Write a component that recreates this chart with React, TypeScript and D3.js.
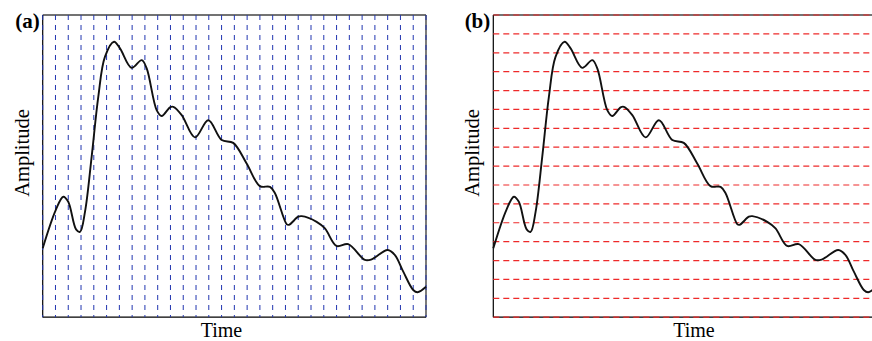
import React from "react";
import * as d3 from "d3";

const timeValues = [0, 1.02, 1.61, 2.0, 2.61, 2.92, 3.31, 3.83, 4.35, 4.87, 5.58, 6.05, 6.96, 7.75, 8.14, 8.92, 9.31, 9.96, 10.22, 10.88, 11.92, 12.96, 14.01, 14.91, 15.96, 17.0, 17.79, 18.18, 19.09, 19.27, 20.0, 20.27, 21.44, 22.09, 23.0, 23.91, 25.22, 25.74, 27.0, 27.57, 28.22, 29.0, 29.34, 30];
const amplitudeValues = [3.65, 5.67, 6.38, 6.11, 4.65, 4.52, 5.58, 8.49, 11.67, 13.78, 14.58, 14.23, 13.2, 13.61, 13.17, 10.96, 10.65, 11.11, 11.14, 10.7, 9.52, 10.43, 9.38, 9.23, 8.14, 6.94, 6.9, 6.56, 4.93, 4.89, 5.32, 5.35, 5.05, 4.7, 3.77, 3.87, 3.03, 3.06, 3.56, 3.29, 2.41, 1.44, 1.32, 1.61];
const timeGrid = d3.range(0, 31);
const amplitudeGrid = d3.range(0, 17);
const panelLabels = ["(a)", "(b)"];
const xLabel = "Time";
const yLabel = "Amplitude";

const TOP = 15;
const BOTTOM = 317.2;
const WIDTH = 383.3;
const FONT = "'Liberation Serif', 'Times New Roman', serif";

type PanelProps = { left: number; mode: "v" | "h"; label: string; timeX: number; ampX: number; ampY: number };

function Panel({ left, mode, label, timeX, ampX, ampY }: PanelProps) {
  const x = d3.scaleLinear().domain([0, 30]).range([left, left + WIDTH]);
  const y = d3.scaleLinear().domain([0, 16]).range([BOTTOM, TOP]);
  const pts: [number, number][] = timeValues.map((t, i) => [x(t), y(amplitudeValues[i])]);
  const line = d3.line().curve(d3.curveCatmullRom.alpha(0.5))(pts) || "";
  const right = left + WIDTH;
  return (
    <g>
      <line x1={left} x2={right} y1={TOP} y2={TOP} stroke="#444" strokeWidth={1.4} />
      <line x1={right} x2={right} y1={TOP} y2={BOTTOM} stroke="#444" strokeWidth={1.4} />
      <line x1={left} x2={left} y1={TOP} y2={BOTTOM} stroke="#000" strokeWidth={1.2} />
      <line x1={left} x2={right} y1={BOTTOM} y2={BOTTOM} stroke="#000" strokeWidth={1.2} />
      {mode === "v"
        ? timeGrid.map((t) => (
            <line key={t} x1={x(t)} x2={x(t)} y1={TOP} y2={BOTTOM} stroke="#2236b0" strokeWidth={1} strokeDasharray="5 5" />
          ))
        : amplitudeGrid.map((a) => (
            <line key={a} x1={left} x2={right} y1={y(a)} y2={y(a)} stroke="#ee2a2a" strokeWidth={1.2} strokeDasharray="6 4" />
          ))}
      <path d={line} fill="none" stroke="#111" strokeWidth={1.9} />
      <text x={left - 3} y={28} textAnchor="end" fontFamily={FONT} fontWeight="bold" fontSize={21}>{label}</text>
      <text x={timeX} y={337} textAnchor="middle" fontFamily={FONT} fontSize={20}>{xLabel}</text>
      <text transform={`translate(${ampX},${ampY}) rotate(-90)`} textAnchor="middle" fontFamily={FONT} fontSize={20.5}>{yLabel}</text>
    </g>
  );
}

export default function App() {
  return (
    <svg width={872} height={341} style={{ position: "absolute", left: 0, top: 0, background: "#fff" }}>
      <rect width={872} height={341} fill="#fff" />
      <Panel left={42.7} mode="v" label={panelLabels[0]} timeX={221.5} ampX={28.5} ampY={153} />
      <Panel left={493.3} mode="h" label={panelLabels[1]} timeX={694} ampX={479} ampY={153} />
    </svg>
  );
}
